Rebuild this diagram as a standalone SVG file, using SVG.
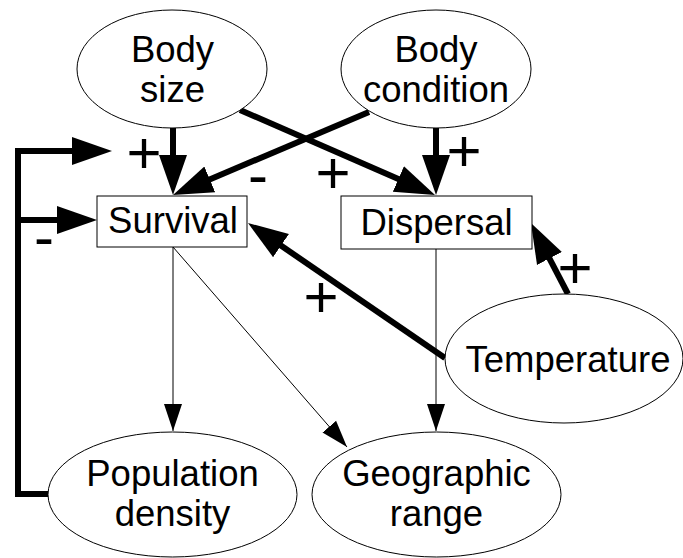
<svg xmlns="http://www.w3.org/2000/svg" width="683" height="558" viewBox="0 0 683 558">
<defs>
<style>
.node{fill:#fff;stroke:#000;stroke-width:1}
.lbl{font-family:"Liberation Sans",Arial,sans-serif;font-size:36.5px;fill:#000;text-anchor:middle}
.sign{font-family:"Liberation Sans",Arial,sans-serif;font-size:60px;fill:#000;text-anchor:middle}
.thick{fill:none;stroke:#000;stroke-width:6;stroke-linejoin:miter}
.thin{fill:none;stroke:#000;stroke-width:1}
</style>
<marker id="big" markerUnits="userSpaceOnUse" markerWidth="42" markerHeight="30" viewBox="0 -15 42 30" refX="20" refY="0" orient="auto">
<path d="M0,-14 L40,0 L0,14 z" fill="#000"/>
</marker>
<marker id="small" markerUnits="userSpaceOnUse" markerWidth="28" markerHeight="20" viewBox="0 -10 28 20" refX="27" refY="0" orient="auto">
<path d="M0,-9 L27,0 L0,9 z" fill="#000"/>
</marker>
</defs>
<rect width="683" height="558" fill="#fff"/>
<g id="connectors">
<line class="thick" x1="173" y1="128" x2="173" y2="175" marker-end="url(#big)"/>
<line class="thick" x1="369" y1="112" x2="191.4" y2="187.2" marker-end="url(#big)"/>
<line class="thick" x1="240" y1="110" x2="416.7" y2="187" marker-end="url(#big)"/>
<line class="thick" x1="436" y1="128" x2="436" y2="175" marker-end="url(#big)"/>
<path class="thick" d="M48,494 L18,494 L18,151 L92,151" marker-end="url(#big)"/>
<line class="thick" x1="18" y1="220" x2="77" y2="220" marker-end="url(#big)"/>
<line class="thick" x1="445" y1="358" x2="264.5" y2="234.3" marker-end="url(#big)"/>
<line class="thick" x1="568" y1="294" x2="540.2" y2="240.7" marker-end="url(#big)"/>
<line class="thin" x1="173" y1="247" x2="173" y2="431" marker-end="url(#small)"/>
<line class="thin" x1="173" y1="247" x2="347" y2="447" marker-end="url(#small)"/>
<line class="thin" x1="436" y1="249" x2="436" y2="431" marker-end="url(#small)"/>
</g>
<g id="signs">
<text class="sign" x="144" y="173">+</text>
<text class="sign" x="464" y="171">+</text>
<text class="sign" x="333" y="193">+</text>
<text class="sign" x="321" y="317">+</text>
<text class="sign" x="575" y="288">+</text>
<text class="sign" x="258" y="195">-</text>
<text class="sign" x="44" y="257">-</text>
</g>
<g id="body-size">
<ellipse class="node" cx="172" cy="69" rx="95" ry="59"/>
<text class="lbl" x="172.5" y="62">Body</text>
<text class="lbl" x="172.5" y="102">size</text>
</g>
<g id="body-condition">
<ellipse class="node" cx="436" cy="69" rx="95" ry="59"/>
<text class="lbl" x="436" y="62">Body</text>
<text class="lbl" x="436" y="102">condition</text>
</g>
<g id="survival">
<rect class="node" x="97" y="196" width="150" height="51"/>
<text class="lbl" x="173" y="233">Survival</text>
</g>
<g id="dispersal">
<rect class="node" x="341" y="196" width="191" height="53"/>
<text class="lbl" x="436.5" y="235">Dispersal</text>
</g>
<g id="temperature">
<ellipse class="node" cx="564" cy="358.5" rx="119" ry="64.5"/>
<text class="lbl" x="568" y="372">Temperature</text>
</g>
<g id="population-density">
<ellipse class="node" cx="172.5" cy="494.5" rx="124.5" ry="62.5"/>
<text class="lbl" x="172.5" y="486">Population</text>
<text class="lbl" x="172.5" y="526">density</text>
</g>
<g id="geographic-range">
<ellipse class="node" cx="436.5" cy="494.5" rx="124.5" ry="62.5"/>
<text class="lbl" x="436.5" y="486">Geographic</text>
<text class="lbl" x="436.5" y="526">range</text>
</g>
</svg>
